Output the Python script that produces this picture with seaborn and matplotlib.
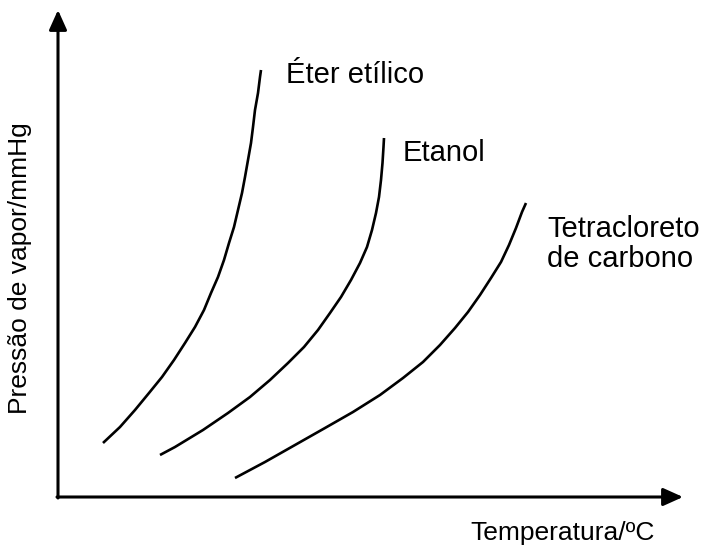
import numpy as np
import pandas as pd
import matplotlib.pyplot as plt
import seaborn as sns

# Vapour pressure curves (schematic, arbitrary units)
eter_temp = [45, 62, 77, 91, 104, 116, 127, 137, 146, 153, 160, 166,
             171, 176, 180, 184, 187, 190, 193, 195, 197, 200, 202, 203]
eter_pres = [54, 70, 87, 104, 120, 137, 154, 170, 187, 204, 220, 237,
             254, 270, 287, 304, 320, 337, 354, 370, 387, 404, 420, 427]

etanol_temp = [102, 117, 145, 170, 192, 212, 230, 246, 260, 272, 283,
               293, 302, 309, 314, 318, 321, 323, 324.5, 325.5, 326]
etanol_pres = [42, 50, 67, 84, 100, 117, 134, 150, 167, 184, 200,
               217, 234, 250, 267, 284, 300, 317, 334, 350, 359]

tetra_temp = [177, 207, 237, 267, 295, 322, 345, 365, 382, 397, 410,
              422, 433, 443, 451, 458, 464, 468]
tetra_pres = [19, 35, 52, 69, 85, 102, 119, 135, 152, 169, 185,
              202, 219, 235, 252, 269, 285, 294]

names = ["Éter etílico", "Etanol", "Tetracloreto\nde carbono"]

df = pd.concat([
    pd.DataFrame({"temp": eter_temp, "pres": eter_pres, "sub": names[0]}),
    pd.DataFrame({"temp": etanol_temp, "pres": etanol_pres, "sub": names[1]}),
    pd.DataFrame({"temp": tetra_temp, "pres": tetra_pres, "sub": names[2]}),
])

sns.set_style("white")
plt.rcParams['font.family'] = ['Liberation Sans', 'DejaVu Sans']
plt.rcParams['text.color'] = 'black'

fig = plt.figure(figsize=(7.02, 5.47), dpi=100)
ax = fig.add_axes([0, 0, 1, 1])

sns.lineplot(data=df, x="temp", y="pres", hue="sub", units="sub", estimator=None,
             sort=False, palette=["black"] * 3, linewidth=1.9, legend=False, ax=ax)
for ln in ax.lines:
    ln.set_solid_capstyle('butt')
    ln.set_solid_joinstyle('round')

ax.set_xlim(-58, 644)
ax.set_ylim(-50, 497)
ax.axis('off')

# axes arrows
arrow = dict(arrowstyle='-|>,head_length=0.6,head_width=0.27', lw=2.2,
             color='black', mutation_scale=20, shrinkA=0, shrinkB=0)
ax.annotate("", xy=(625, 0), xytext=(-1, 0), arrowprops=arrow)
ax.annotate("", xy=(0, 487), xytext=(0, -1), arrowprops=arrow)

# curve labels
ax.text(228, 422, names[0], fontsize=21, ha='left', va='center', color='black')
ax.text(345, 344, names[1], fontsize=21, ha='left', va='center', color='black')
ax.text(489, 253, names[2], fontsize=21, ha='left', va='center', color='black',
        linespacing=1.1)

# axis titles
ax.text(412, -36, "Temperatura/ºC", fontsize=19, ha='left', va='center', color='black')
ax.text(-38, 229, "Pressão de vapor/mmHg", fontsize=19, ha='center', va='center',
        rotation=90, color='black')

fig.savefig("out.png", dpi=100)
